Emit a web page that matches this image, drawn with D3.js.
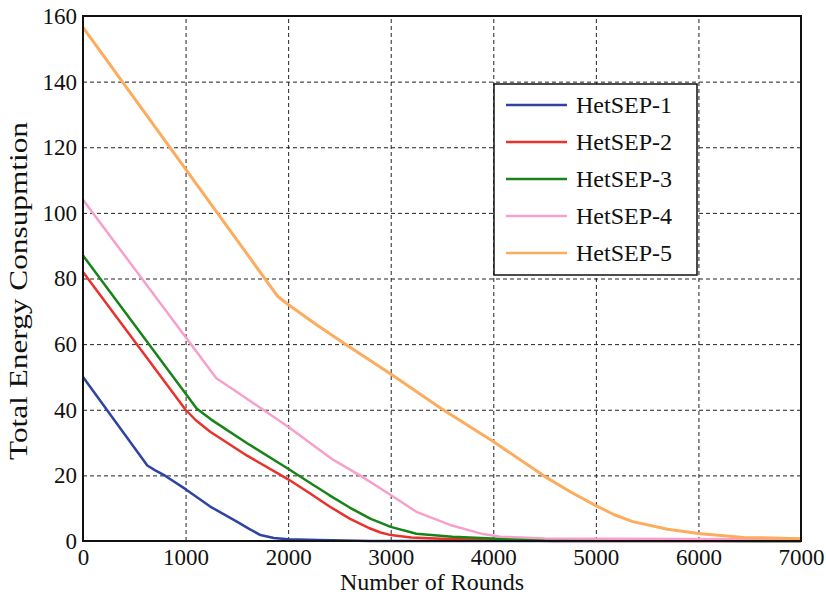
<!DOCTYPE html>
<html>
<head>
<meta charset="utf-8">
<script src="https://cdn.jsdelivr.net/npm/d3@7"></script>
<style>
  body { margin: 0; background: #fff; }
  svg text { font-family: "Liberation Serif", "Times New Roman", serif; fill: #111; }
  .grid line { stroke: #222; stroke-width: 1; stroke-dasharray: 4,3; }
  .grid path { display: none; }
  .axis path, .axis line { display: none; }
  .axis text { font-size: 23px; }
</style>
</head>
<body>
<div class="main"></div>
<script>
// series values
const seriesNames = ["HetSEP-1", "HetSEP-2", "HetSEP-3", "HetSEP-4", "HetSEP-5"];
const seriesColors = ["#2f43a3", "#e8322b", "#188418", "#f6a0cb", "#fdac5e"];

const rounds1 = [0, 627, 700, 800, 1000, 1240, 1500, 1620, 1730, 1860, 2000, 2300, 2800, 7000];
const energy1 = [50, 23, 21.6, 19.9, 15.8, 10.5, 5.9, 3.7, 1.8, 0.9, 0.5, 0.3, 0, 0];

const rounds2 = [0, 1000, 1100, 1240, 1600, 2000, 2200, 2400, 2600, 2800, 2900, 3000, 3200, 3500, 4000, 4600, 7000];
const energy2 = [82, 40, 36.8, 33.3, 26, 18.8, 14.8, 10.6, 6.8, 3.8, 2.6, 1.8, 1.1, 0.7, 0.3, 0, 0];

const rounds3 = [0, 1110, 1250, 1600, 2000, 2200, 2400, 2600, 2800, 3000, 3250, 3600, 4100, 4600, 6800, 7000];
const energy3 = [87, 40.3, 37, 29.8, 22, 18, 14, 10.2, 6.8, 4.3, 2.2, 1.3, 0.6, 0.3, 0, 0];

const rounds4 = [0, 1300, 1450, 2000, 2440, 2700, 3000, 3250, 3580, 3900, 4070, 4500, 7000];
const energy4 = [104, 49.6, 46.5, 34.8, 24.7, 20, 14, 8.9, 4.9, 2.1, 1.3, 0.8, 0.5];

const rounds5 = [0, 1900, 1990, 2280, 2570, 3000, 3500, 4000, 4500, 4750, 5000, 5180, 5360, 5700, 6000, 6440, 7000];
const energy5 = [156.5, 74.5, 72.3, 65.8, 59.7, 50.9, 40.2, 30.3, 19.7, 15, 10.8, 8, 5.9, 3.6, 2.3, 1.1, 0.7];

const xTicks = [0, 1000, 2000, 3000, 4000, 5000, 6000, 7000];
const yTicks = [0, 20, 40, 60, 80, 100, 120, 140, 160];

const allRounds = [rounds1, rounds2, rounds3, rounds4, rounds5];
const allEnergy = [energy1, energy2, energy3, energy4, energy5];

const svgWidth = 826,
      svgHeight = 594,
      margin = {top: 16, right: 25, bottom: 53, left: 83},
      width = svgWidth - margin.left - margin.right,
      height = svgHeight - margin.top - margin.bottom;

let svg = d3.select("body>.main").append("svg")
    .attr("width", svgWidth)
    .attr("height", svgHeight)
  .append("g")
    .attr("transform", "translate(" + margin.left + "," + margin.top + ")");

let x = d3.scaleLinear().domain([0, 7000]).range([0, width]),
    y = d3.scaleLinear().domain([0, 160]).range([height, 0]);

// grid
svg.append("g")
    .attr("class", "grid")
    .attr("transform", "translate(0," + height + ")")
    .call(d3.axisBottom(x).tickValues(xTicks.slice(1, -1)).tickSize(-height).tickFormat(""));
svg.append("g")
    .attr("class", "grid")
    .call(d3.axisLeft(y).tickValues(yTicks.slice(1, -1)).tickSize(-width).tickFormat(""));

// axes labels
svg.append("g")
    .attr("class", "axis x")
    .attr("transform", "translate(0," + height + ")")
    .call(d3.axisBottom(x).tickValues(xTicks).tickSize(0).tickPadding(8).tickFormat(d3.format("d")));
svg.append("g")
    .attr("class", "axis y")
    .call(d3.axisLeft(y).tickValues(yTicks).tickSize(0).tickPadding(6).tickFormat(d3.format("d")));

// lines
let line = d3.line()
    .x(d => x(d[0]))
    .y(d => y(d[1]));

svg.append("g")
    .attr("class", "lines")
  .selectAll("path")
    .data(seriesNames.map((name, i) => ({name: name, pts: d3.zip(allRounds[i], allEnergy[i])})))
  .enter().append("path")
    .attr("d", d => line(d.pts))
    .style("fill", "none")
    .style("stroke", (d, i) => seriesColors[i])
    .style("stroke-width", (d, i) => i === 4 ? 3 : 2.5)
    .style("stroke-linejoin", "round");

// frame
svg.append("rect")
    .attr("width", width)
    .attr("height", height)
    .style("fill", "none")
    .style("stroke", "#111")
    .style("stroke-width", 2);

// axis titles
svg.append("text")
    .attr("x", 349)
    .attr("y", height + 49)
    .attr("text-anchor", "middle")
    .style("font-size", "24px")
    .text("Number of Rounds");

svg.append("text")
    .attr("transform", "translate(" + (27 - margin.left) + "," + (291 - margin.top) + ") rotate(-90)")
    .attr("text-anchor", "middle")
    .attr("textLength", 338)
    .attr("lengthAdjust", "spacingAndGlyphs")
    .style("font-size", "25px")
    .text("Total Energy Consupmtion");

// legend
const lx = 494 - margin.left, ly = 84 - margin.top;
let legendBox = svg.append("g").attr("class", "legend");
legendBox.append("rect")
    .attr("x", lx)
    .attr("y", ly)
    .attr("width", 203)
    .attr("height", 191)
    .style("fill", "#fff")
    .style("stroke", "#111")
    .style("stroke-width", 1.5);

let item = legendBox.selectAll(".legend__item")
    .data(seriesNames)
  .enter().append("g")
    .attr("class", "legend__item")
    .attr("transform", (d, i) => "translate(" + lx + "," + (ly + 21 + i * 37) + ")");

item.append("line")
    .attr("x1", 12)
    .attr("x2", 73)
    .style("stroke", (d, i) => seriesColors[i])
    .style("stroke-width", 2.5);

item.append("text")
    .attr("x", 82)
    .attr("dy", ".35em")
    .style("font-size", "24px")
    .text(d => d);
</script>
</body>
</html>
